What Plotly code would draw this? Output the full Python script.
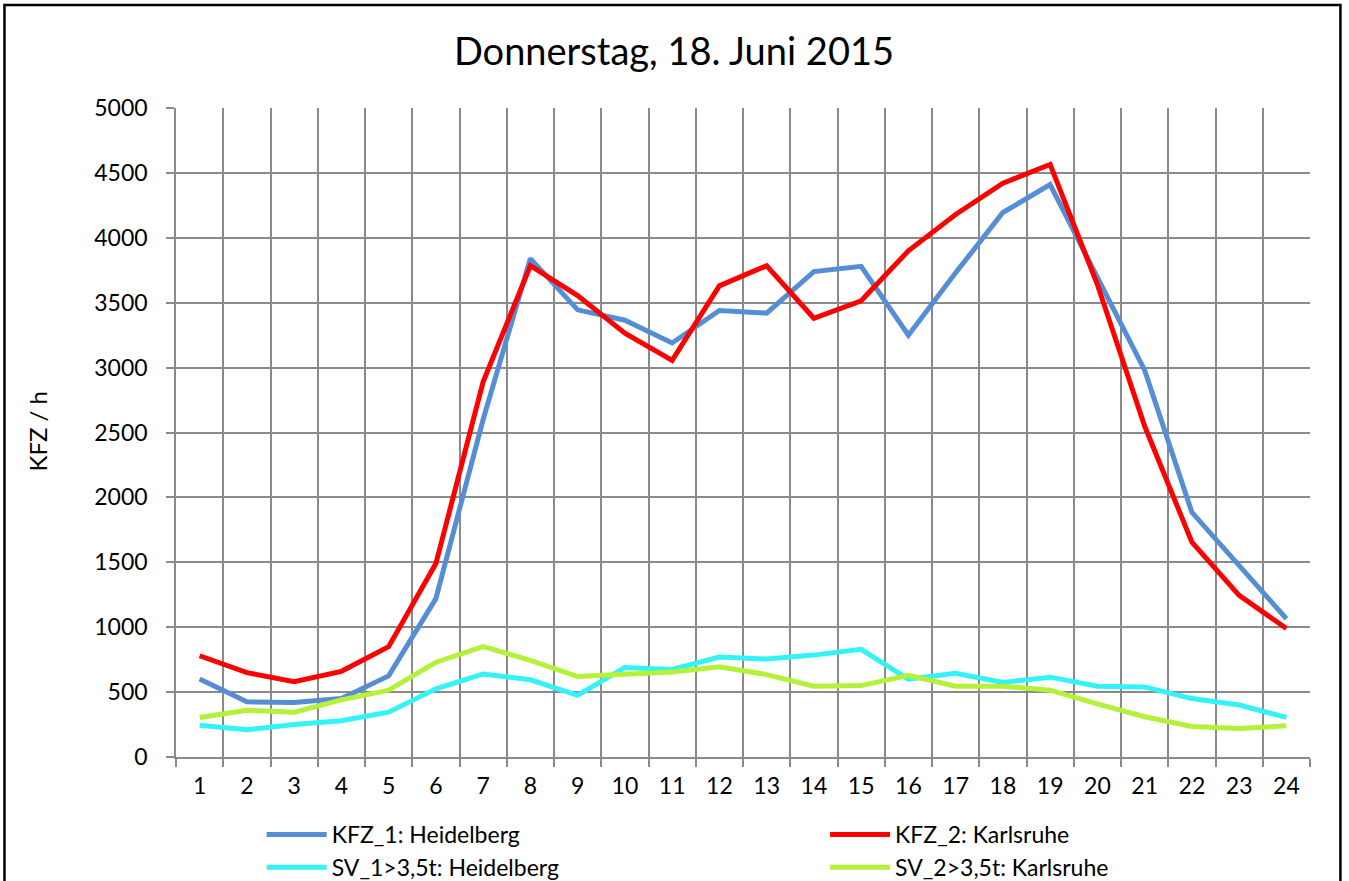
import plotly.graph_objects as go

hours = [str(h) for h in range(1, 25)]
kfz_1 = [600, 425, 420, 450, 625, 1220, 2600, 3840, 3445, 3365, 3190, 3440,
         3420, 3740, 3780, 3250, 3730, 4195, 4410, 3690, 2980, 1885, 1475, 1065]
kfz_2 = [780, 650, 580, 660, 850, 1490, 2890, 3785, 3555, 3265, 3055, 3630,
         3785, 3380, 3515, 3900, 4180, 4420, 4565, 3640, 2550, 1655, 1245, 990]
sv_1 = [245, 210, 250, 280, 345, 525, 640, 595, 475, 690, 675, 770,
        755, 785, 830, 600, 645, 575, 615, 545, 540, 450, 400, 305]
sv_2 = [305, 360, 345, 440, 515, 730, 850, 745, 620, 640, 655, 695,
        635, 545, 550, 630, 545, 545, 515, 410, 310, 235, 220, 240]

series_names = ["KFZ_1: Heidelberg", "KFZ_2: Karlsruhe",
                "SV_1>3,5t: Heidelberg", "SV_2>3,5t: Karlsruhe"]
series_values = [kfz_1, kfz_2, sv_1, sv_2]
series_colors = ["#558ED5", "#FF0000", "#33F2F8", "#B5F03A"]
series_legend = ["legend", "legend2", "legend", "legend2"]

title_text = "Donnerstag, 18. Juni 2015"
y_title = "KFZ / h"

FONT = "Lato"
W, H = 1349, 881
# plot area in page pixels
PX0, PX1, PY0, PY1 = 176.4, 1309.6, 108, 757
L, R, T, B = PX0, W - PX1, PY0, H - PY1
pw, ph = PX1 - PX0, PY1 - PY0


def px(x):
    return (x - PX0) / pw


def py(y):
    return (PY1 - y) / ph


fig = go.Figure()
for name, vals, col, lg in zip(series_names, series_values, series_colors,
                               series_legend):
    fig.add_trace(go.Scatter(x=hours, y=vals, mode="lines", name=name,
                             legend=lg, line=dict(color=col, width=5)))

grid = "#8A8A8A"
legend_common = dict(orientation="v", xanchor="left", yanchor="top",
                     y=py(813), itemwidth=60, tracegroupgap=0,
                     font=dict(family=FONT, size=23),
                     bgcolor="rgba(0,0,0,0)")
fig.update_layout(
    width=W, height=H,
    margin=dict(l=L, r=R, t=T, b=B, autoexpand=False),
    paper_bgcolor="white", plot_bgcolor="white",
    font=dict(family=FONT, size=23, color="black"),
    title=dict(text=title_text, x=674 / W, xanchor="center",
               y=1 - 52 / H, yanchor="middle", yref="container",
               font=dict(family=FONT, size=38, color="black")),
    xaxis=dict(type="category", tickson="boundaries", showgrid=True,
               range=[-0.5, 23.5],
               gridcolor=grid, gridwidth=1.5, ticks="outside", ticklen=8,
               tickcolor=grid, tickwidth=1.5, showline=True, linecolor=grid,
               linewidth=1.5, mirror=False, ticklabelstandoff=8,
               tickfont=dict(size=23)),
    yaxis=dict(range=[0, 5000], dtick=500, showgrid=True, gridcolor=grid,
               gridwidth=1.5, ticks="outside", ticklen=8, tickcolor=grid,
               tickwidth=1.5, showline=True, linecolor=grid, linewidth=1.5,
               zeroline=False, ticklabelstandoff=14,
               tickfont=dict(size=23)),
    legend=dict(x=px(262), **legend_common),
    legend2=dict(x=px(825), **legend_common),
    showlegend=True,
)

fig.add_annotation(text=y_title, textangle=-90, xref="paper", yref="paper",
                   x=px(37), y=py(432), xanchor="center",
                   yanchor="middle", showarrow=False,
                   font=dict(family=FONT, size=24, color="black"))

fig.add_shape(type="rect", xref="paper", yref="paper",
              x0=px(5), x1=px(1340), y0=py(895), y1=py(5),
              line=dict(color="black", width=2.5), fillcolor="rgba(0,0,0,0)",
              layer="below")

fig.write_html("out.html", config={"displayModeBar": False},
               post_script="document.body.style.margin='0px';")
